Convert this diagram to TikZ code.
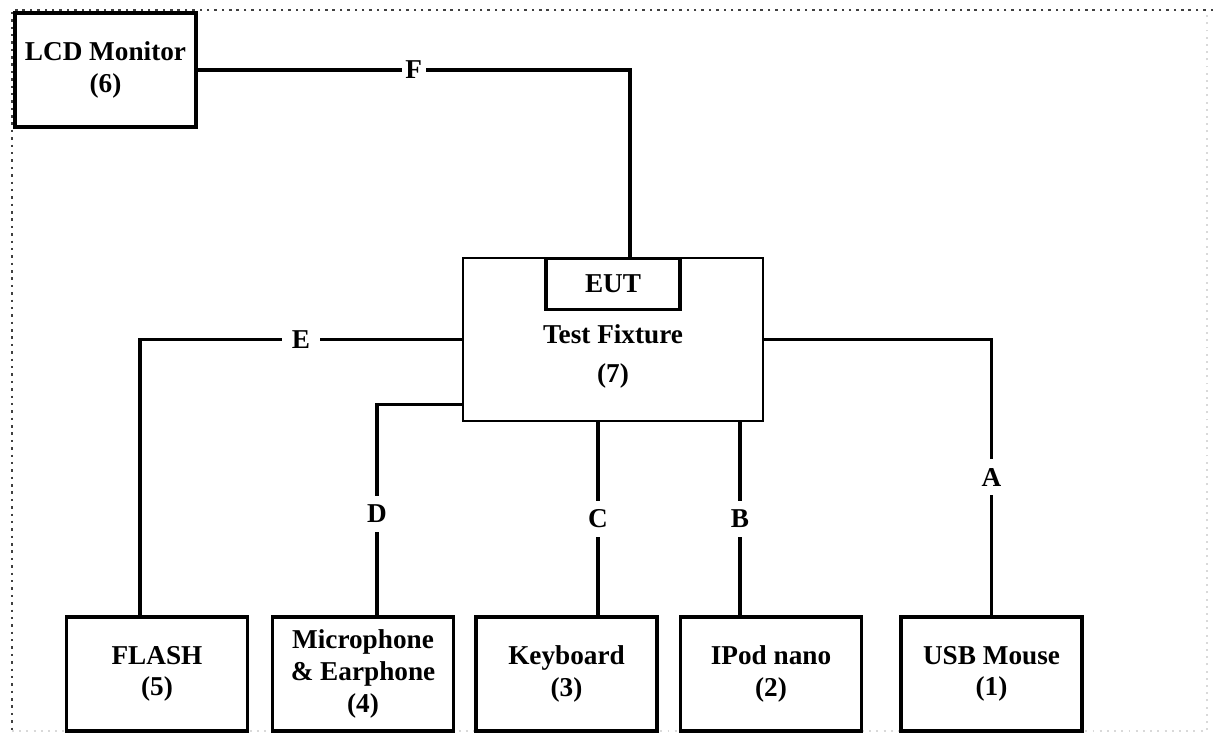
\documentclass[tikz,border=0pt]{standalone}
\usepackage{fontspec}
\setmainfont{Liberation Serif}
\usepackage{tikz}
\usetikzlibrary{positioning,calc}

\tikzset{
    unit/.style={draw, line width=1.8pt, rectangle, align=center, minimum width=3.62cm, minimum height=2.28cm, font=\bfseries\fontsize{15.5}{18}\selectfont},
    cable/.style={line width=1.8pt},
    lab/.style={fill=white, inner xsep=0.2cm, inner ysep=0.18cm, font=\bfseries\fontsize{15.5}{18}\selectfont},
}

\begin{document}
\begin{tikzpicture}[x=0.02cm, y=-0.02cm]
        \useasboundingbox (0, 0) rectangle (1213, 733);
        % frame
        \draw[black!75, line width=1.4pt, dash pattern=on 1.4pt off 2.8pt] (1213, 10) -- (12, 10) -- (12, 733);
        \draw[black!15, line width=1.1pt, dash pattern=on 1.1pt off 3pt] (12, 731) -- (1207, 731) -- (1207, 10);

        \node[unit] (lcd) at (105.5, 70) {LCD Monitor\\(6)};
        \node[draw, line width=1.3pt, minimum width=6cm, minimum height=3.26cm] (tf) at (613, 339.5) {};
        \node[unit, minimum width=2.68cm, minimum height=1.02cm, anchor=north] (eut) at (tf.north) {EUT};
        \node[font=\bfseries\fontsize{15.5}{18}\selectfont, align=center] (tftxt) at ([yshift=-0.34cm]tf.center) {Test Fixture\\[0.16cm](7)};

        \node[unit] (flash) at (157, 674) {FLASH\\(5)};
        \node[unit] (mic) at (363, 674) {Microphone\\\& Earphone\\(4)};
        \node[unit] (kbd) at (566.5, 674) {Keyboard\\(3)};
        \node[unit] (ipod) at (771, 674) {IPod nano\\(2)};
        \node[unit] (mouse) at (991.5, 674) {USB Mouse\\(1)};

        % cables
        \coordinate (f-end) at ([xshift=0.34cm]eut.north);
        \coordinate (e-end) at ([xshift=-0.34cm]flash.north);
        \coordinate (d-start) at ([yshift=0.36cm]tf.south west);
        \coordinate (d-end) at ([xshift=0.28cm]mic.north);
        \coordinate (c-start) at ([xshift=-0.3cm]tf.south);
        \coordinate (b-start) at ([xshift=2.54cm]tf.south);

        \draw[cable] (lcd.east) -| (f-end) node[lab, inner xsep=0.07cm, pos=0.25] {F};
        \draw[cable] (tf.west) -| (e-end) node[lab, pos=0.25] {E};
        \draw[cable] (d-start) -| (d-end) node[lab, pos=0.76] {D};
        \draw[cable] (c-start) -- (c-start |- kbd.north) node[lab, midway] {C};
        \draw[cable] (b-start) -- (b-start |- ipod.north) node[lab, midway] {B};
        \draw[cable] (tf.east) -| (mouse.north) node[lab, pos=0.75] {A};
    \end{tikzpicture}
\end{document}
